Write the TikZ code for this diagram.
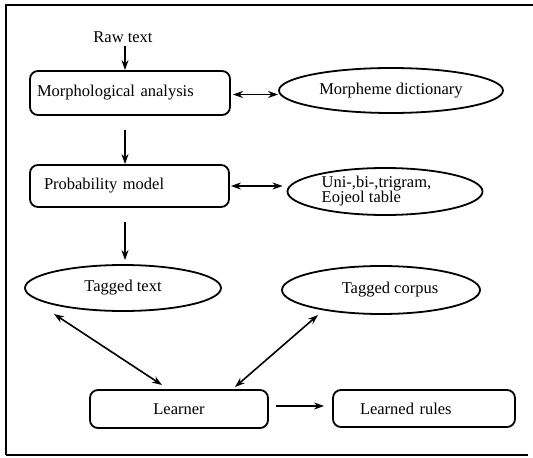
\documentclass[tikz,border=0pt]{standalone}
\usepackage{fontspec}
\setmainfont{Liberation Serif}
\usetikzlibrary{shapes.geometric,arrows.meta,calc}
\begin{document}
\begin{tikzpicture}[x=1pt,y=-1pt,
  font=\fontsize{16.5}{14}\selectfont,
  boxnode/.style={draw,line width=1.8pt,rounded corners=8pt,rectangle,inner ysep=0pt},
  ellnode/.style={draw,line width=1.8pt,ellipse,inner sep=0pt},
  arr/.style={line width=1.6pt,-{Stealth[length=10pt,width=7pt]}},
  darr/.style={line width=1.6pt,{Stealth[length=10pt,width=7pt]}-{Stealth[length=10pt,width=7pt]}}]
\useasboundingbox (0,0) rectangle (533,458);
% frame
\draw[line width=2pt] (6,455) -- (6,5) -- (533,5);
\draw[line width=2pt] (6,455) -- (528,455);
% nodes
\node (raw) at (123,37) {Raw text};
\node[boxnode,minimum width=200pt,minimum height=44pt,inner xsep=7pt,text width=186pt,align=left] (ma) at (130,93) {Morphological analysis};
\node[ellnode,minimum width=224pt,minimum height=45pt] (md) at (391,90.5) {Morpheme dictionary};
\node[boxnode,minimum width=199pt,minimum height=42pt,inner xsep=14pt,text width=171pt,align=left] (pm) at (129.5,186) {Probability model};
\node[ellnode,minimum width=195pt,minimum height=47pt] (uni) at (385,191.5) {\raisebox{4.5pt}{\begin{tabular}{@{}l@{}}Uni-,bi-,trigram,\\Eojeol table\end{tabular}}\hspace*{17pt}};
\node[ellnode,minimum width=196pt,minimum height=46pt] (tt) at (123,288) {Tagged text};
\node[ellnode,minimum width=198pt,minimum height=48pt] (tc) at (381,290) {\hspace*{18pt}Tagged corpus};
\node[boxnode,minimum width=178pt,minimum height=38pt,align=center] (lr) at (179,409) {Learner};
\node[boxnode,minimum width=182pt,minimum height=37pt,inner xsep=27pt,text width=128pt,align=left] (rules) at (424,408.5) {Learned rules};
% connectors
\draw[arr] ($(raw.south)+(2,0)$) -- ($(ma.north)+(-5,0)$);
\draw[darr] ($(ma.east)+(2,1.5)$) -- ($(md.west)+(0,4)$);
\draw[arr,shorten <=14pt] ($(ma.south)+(-5,0)$) -- ($(pm.north)+(-4.5,0)$);
\draw[darr] ($(pm.east)+(1,0)$) -- ($(uni.west)+(-4,-5.5)$);
\draw[arr,shorten <=14pt,shorten >=4pt] ($(pm.south)+(-4.5,0)$) -- ($(tt.north)+(2,0)$);
\draw[darr] ($(tt)+(-69,26)$) -- ($(lr)+(-17,-24)$);
\draw[darr] ($(tc)+(-63,25)$) -- ($(lr)+(56,-22)$);
\draw[arr,shorten <=7pt,shorten >=8pt] ($(lr.east)+(0,-3)$) -- ($(rules.west)+(0,-2.5)$);
\end{tikzpicture}
\end{document}
